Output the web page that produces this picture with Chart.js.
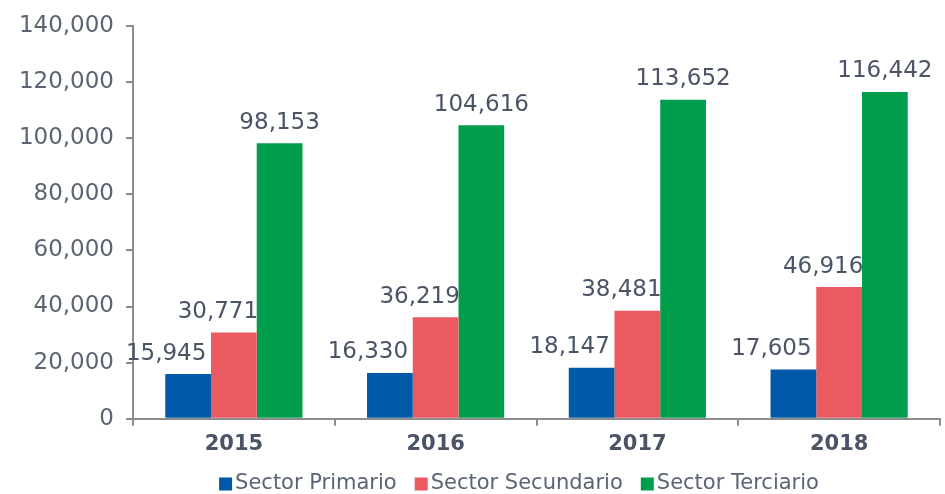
<!DOCTYPE html>
<html>
<head>
<meta charset="utf-8">
<script src="https://cdn.jsdelivr.net/npm/chart.js@4/dist/chart.umd.min.js"></script>
<style>
  html, body { margin: 0; padding: 0; background: #fff; }
  #wrap { width: 945px; height: 494px; }
</style>
</head>
<body>
<div id="wrap"><canvas id="myChart" width="945" height="494"></canvas></div>
<script>
const years = ["2015", "2016", "2017", "2018"];
const primario = [15945, 16330, 18147, 17605];
const secundario = [30771, 36219, 38481, 46916];
const terciario = [98153, 104616, 113652, 116442];
const yTicks = [0, 20000, 40000, 60000, 80000, 100000, 120000, 140000];

const textColor = "#5a6473";
const axisColor = "#8c8c8c";
const fontFamily = "'DejaVu Sans', 'Noto Sans', sans-serif";

// value labels above bars, shifted left a bit for the first two series
const labelShift = [-22, -16, 0];
const barLabels = {
    id: "barLabels",
    afterDatasetsDraw(chart) {
        const ctx = chart.ctx;
        ctx.save();
        ctx.font = "23px " + fontFamily;
        ctx.fillStyle = "#4a5466";
        ctx.textAlign = "center";
        ctx.textBaseline = "bottom";
        chart.data.datasets.forEach((ds, di) => {
            chart.getDatasetMeta(di).data.forEach((bar, i) => {
                const txt = ds.data[i].toLocaleString("en-US");
                ctx.fillText(txt, bar.x + labelShift[di], bar.y - 9);
            });
        });
        ctx.restore();
    }
};

// simple legend drawn at the bottom, square boxes close to the text
const bottomLegend = {
    id: "bottomLegend",
    afterDraw(chart) {
        const ctx = chart.ctx;
        const box = 13, gap = 3, itemGap = 18;
        ctx.save();
        ctx.font = "21px " + fontFamily;
        ctx.textBaseline = "middle";
        const items = chart.data.datasets.map(ds => ({ text: ds.label, color: ds.backgroundColor, w: ctx.measureText(ds.label).width }));
        let total = items.reduce((s, it) => s + box + gap + it.w, 0) + itemGap * (items.length - 1);
        let x = 519 - total / 2;
        const y = 484;
        items.forEach(it => {
            ctx.fillStyle = it.color;
            ctx.fillRect(x, y - box / 2, box, box);
            ctx.fillStyle = textColor;
            ctx.fillText(it.text, x + box + gap, y);
            x += box + gap + it.w + itemGap;
        });
        ctx.restore();
    }
};

const ctx = document.getElementById("myChart").getContext("2d");
const myChart = new Chart(ctx, {
    type: "bar",
    data: {
        labels: years,
        datasets: [
            { label: "Sector Primario", data: primario, backgroundColor: "#0058a8" },
            { label: "Sector Secundario", data: secundario, backgroundColor: "#eb5a61" },
            { label: "Sector Terciario", data: terciario, backgroundColor: "#009d4d" }
        ]
    },
    options: {
        responsive: false,
        animation: false,
        layout: { padding: { top: 8, right: 5, left: 0, bottom: 31 } },
        datasets: { bar: { categoryPercentage: 0.68, barPercentage: 1 } },
        plugins: {
            legend: { display: false },
            tooltip: { enabled: false }
        },
        scales: {
            x: {
                grid: { drawOnChartArea: false, offset: true, tickLength: 7, color: axisColor, lineWidth: 2 },
                border: { color: axisColor, width: 2 },
                ticks: { color: "#4a5466", font: { family: fontFamily, size: 21, weight: "bold" }, padding: 6 }
            },
            y: {
                min: 0, max: 140000,
                afterBuildTicks: s => { s.ticks = yTicks.map(v => ({ value: v })); },
                afterFit: s => { s.width = 133; },
                grid: { drawOnChartArea: false, tickLength: 7, color: axisColor, lineWidth: 2 },
                border: { color: axisColor, width: 2 },
                ticks: {
                    color: textColor, padding: 12,
                    font: { family: fontFamily, size: 23 },
                    callback: v => v.toLocaleString("en-US")
                }
            }
        }
    },
    plugins: [barLabels, bottomLegend]
});
</script>
</body>
</html>
